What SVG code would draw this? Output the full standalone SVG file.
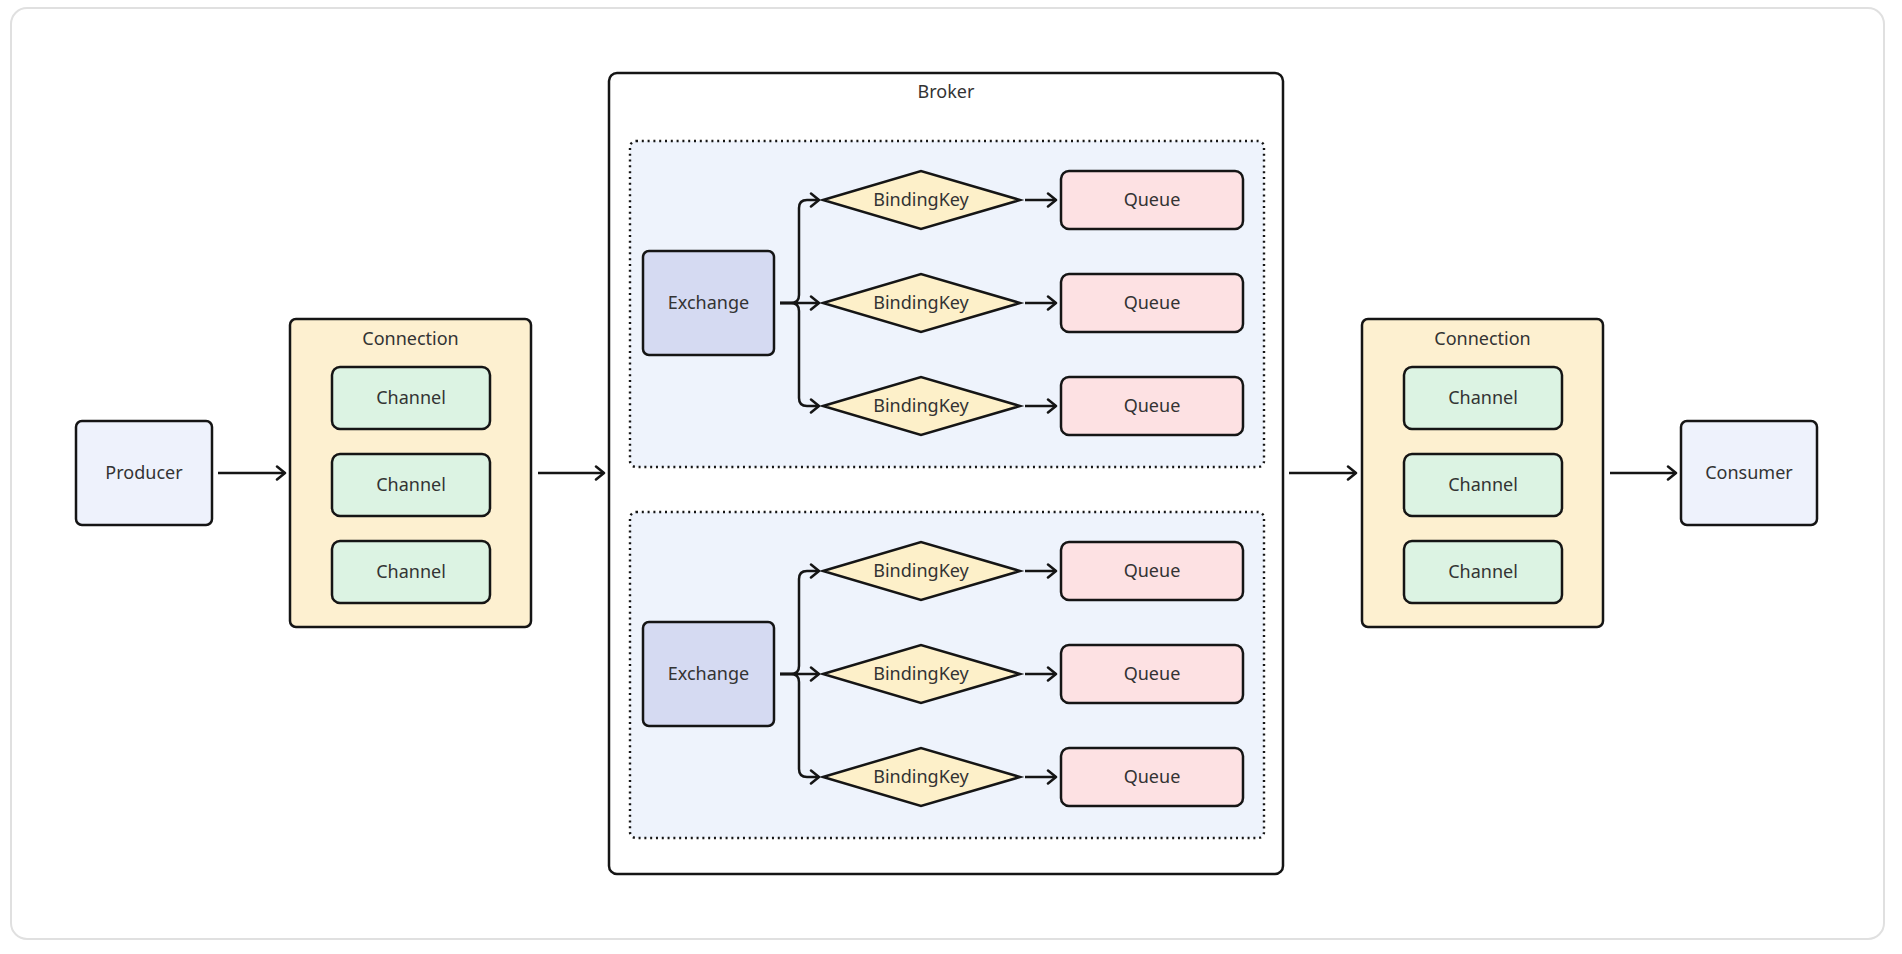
<svg xmlns="http://www.w3.org/2000/svg" width="1902" height="954" viewBox="0 0 1902 954">
  <style>
    .box { stroke: #151515; stroke-width: 2.5; }
    .prod { fill: #eef2fc; }
    .conn { fill: #fdf0d0; }
    .chan { fill: #dcf3e3; }
    .exch { fill: #d5daf2; }
    .bk { fill: #fdf0c9; stroke: #151515; stroke-width: 2.5; stroke-linejoin: miter; }
    .queue { fill: #fde1e3; }
    .group { fill: #eef3fc; stroke: #151515; stroke-width: 2.4; stroke-dasharray: 2 3.8; }
    .edge { fill: none; stroke: #151515; stroke-width: 2.5; marker-end: url(#arrow); }
    text { font-family: "Noto Sans", "Open Sans", sans-serif; font-size: 18px; fill: #333; text-anchor: middle; dominant-baseline: central; }
  </style>
  <defs>
    <marker id="arrow" markerUnits="userSpaceOnUse" viewBox="0 0 12 16" refX="10" refY="8" markerWidth="12" markerHeight="16" orient="auto">
      <path d="M2,1.5 L10,8 L2,14.5" fill="none" stroke="#151515" stroke-width="2.5" stroke-linecap="round" stroke-linejoin="round"/>
    </marker>
  </defs>

  <rect x="0" y="0" width="1902" height="954" fill="#ffffff"/>
  <rect id="frame" x="11" y="8" width="1873" height="931" rx="16" fill="#ffffff" stroke="#e0e0e0" stroke-width="2"/>

  <g id="producer">
    <rect class="box prod" x="76" y="421" width="136" height="104" rx="6"/>
    <text x="144" y="472">Producer</text>
  </g>

  <g id="connection-left">
    <rect class="box conn" x="290" y="319" width="241" height="308" rx="6"/>
    <text x="410.5" y="338">Connection</text>
  </g>
  <g id="channel-l1"><rect class="box chan" x="332" y="367" width="158" height="62" rx="8"/><text x="411" y="397">Channel</text></g>
  <g id="channel-l2"><rect class="box chan" x="332" y="454" width="158" height="62" rx="8"/><text x="411" y="484">Channel</text></g>
  <g id="channel-l3"><rect class="box chan" x="332" y="541" width="158" height="62" rx="8"/><text x="411" y="571">Channel</text></g>

  <g id="broker">
    <rect class="box" x="609" y="73" width="674" height="801" rx="8" fill="#ffffff"/>
    <text x="946" y="91">Broker</text>
  </g>

  <g id="vhost-1">
    <rect class="group" x="630" y="141" width="634" height="326" rx="6"/>
  </g>
  <g id="vhost-2">
    <rect class="group" x="630" y="512" width="634" height="326" rx="6"/>
  </g>

  <g id="exchange-1"><rect class="box exch" x="643" y="251" width="131" height="104" rx="6"/><text x="708.5" y="302">Exchange</text></g>
  <g id="bk-1a"><polygon class="bk" points="823,200 921,171 1020,200 921,229"/><text x="921" y="199">BindingKey</text></g>
  <g id="bk-1b"><polygon class="bk" points="823,303 921,274 1020,303 921,332"/><text x="921" y="302">BindingKey</text></g>
  <g id="bk-1c"><polygon class="bk" points="823,406 921,377 1020,406 921,435"/><text x="921" y="405">BindingKey</text></g>
  <g id="queue-1a"><rect class="box queue" x="1061" y="171" width="182" height="58" rx="8"/><text x="1152" y="199">Queue</text></g>
  <g id="queue-1b"><rect class="box queue" x="1061" y="274" width="182" height="58" rx="8"/><text x="1152" y="302">Queue</text></g>
  <g id="queue-1c"><rect class="box queue" x="1061" y="377" width="182" height="58" rx="8"/><text x="1152" y="405">Queue</text></g>

  <g id="exchange-2"><rect class="box exch" x="643" y="622" width="131" height="104" rx="6"/><text x="708.5" y="673">Exchange</text></g>
  <g id="bk-2a"><polygon class="bk" points="823,571 921,542 1020,571 921,600"/><text x="921" y="570">BindingKey</text></g>
  <g id="bk-2b"><polygon class="bk" points="823,674 921,645 1020,674 921,703"/><text x="921" y="673">BindingKey</text></g>
  <g id="bk-2c"><polygon class="bk" points="823,777 921,748 1020,777 921,806"/><text x="921" y="776">BindingKey</text></g>
  <g id="queue-2a"><rect class="box queue" x="1061" y="542" width="182" height="58" rx="8"/><text x="1152" y="570">Queue</text></g>
  <g id="queue-2b"><rect class="box queue" x="1061" y="645" width="182" height="58" rx="8"/><text x="1152" y="673">Queue</text></g>
  <g id="queue-2c"><rect class="box queue" x="1061" y="748" width="182" height="58" rx="8"/><text x="1152" y="776">Queue</text></g>

  <g id="connection-right">
    <rect class="box conn" x="1362" y="319" width="241" height="308" rx="6"/>
    <text x="1482.5" y="338">Connection</text>
  </g>
  <g id="channel-r1"><rect class="box chan" x="1404" y="367" width="158" height="62" rx="8"/><text x="1483" y="397">Channel</text></g>
  <g id="channel-r2"><rect class="box chan" x="1404" y="454" width="158" height="62" rx="8"/><text x="1483" y="484">Channel</text></g>
  <g id="channel-r3"><rect class="box chan" x="1404" y="541" width="158" height="62" rx="8"/><text x="1483" y="571">Channel</text></g>

  <g id="consumer">
    <rect class="box prod" x="1681" y="421" width="136" height="104" rx="6"/>
    <text x="1749" y="472">Consumer</text>
  </g>

  <g id="connectors">
    <path class="edge" d="M218,473 H285"/>
    <path class="edge" d="M538,473 H604"/>
    <path class="edge" d="M1289,473 H1356"/>
    <path class="edge" d="M1610,473 H1676"/>

    <path class="edge" d="M780,303 H791 Q799,303 799,295 V208 Q799,200 807,200 H819"/>
    <path class="edge" d="M780,303 H819"/>
    <path class="edge" d="M780,303 H791 Q799,303 799,311 V398 Q799,406 807,406 H819"/>
    <path class="edge" d="M1025,200 H1056"/>
    <path class="edge" d="M1025,303 H1056"/>
    <path class="edge" d="M1025,406 H1056"/>

    <path class="edge" d="M780,674 H791 Q799,674 799,666 V579 Q799,571 807,571 H819"/>
    <path class="edge" d="M780,674 H819"/>
    <path class="edge" d="M780,674 H791 Q799,674 799,682 V769 Q799,777 807,777 H819"/>
    <path class="edge" d="M1025,571 H1056"/>
    <path class="edge" d="M1025,674 H1056"/>
    <path class="edge" d="M1025,777 H1056"/>
  </g>
</svg>
